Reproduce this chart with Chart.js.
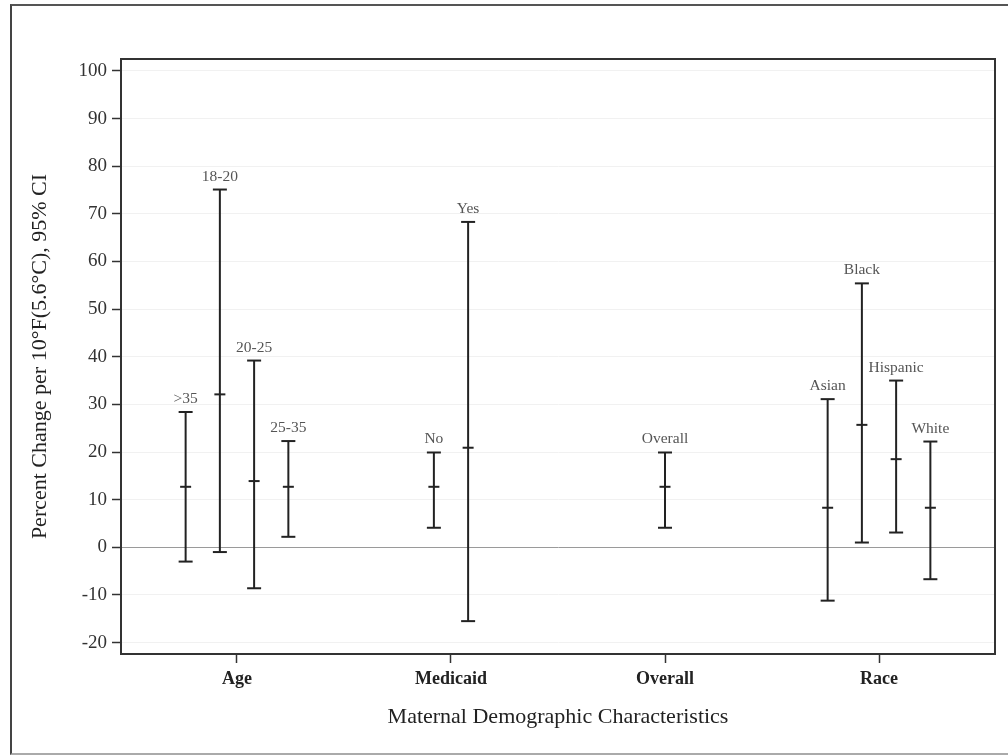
<!DOCTYPE html>
<html>
<head>
<meta charset="utf-8">
<script src="https://cdn.jsdelivr.net/npm/chart.js@4.4.0/dist/chart.umd.min.js"></script>
<style>
  body { margin: 0; background: #fff; overflow: hidden; }
  #frame { position: absolute; left: 10px; top: 4px; width: 1100px; height: 747px;
           border-left: 2px solid #444; border-top: 2px solid #555; border-bottom: 2px solid #aaa; }
  #wrap { position: absolute; left: 0; top: 0; width: 1008px; height: 755px; }
</style>
</head>
<body>
<div id="frame"></div>
<div id="wrap"><canvas id="ciChart" width="1008" height="755"></canvas></div>
<script>
// categories on the x axis
const categories = ["Age", "Medicaid", "Overall", "Race"];
// subgroups: label, category they belong to
const groupLabels = [">35", "18-20", "20-25", "25-35", "No", "Yes", "Overall", "Asian", "Black", "Hispanic", "White"];
const groupCategory = ["Age", "Age", "Age", "Age", "Medicaid", "Medicaid", "Overall", "Race", "Race", "Race", "Race"];
// percent change estimate and 95% CI
const estimate = [12.7, 32.1, 13.9, 12.7, 12.7, 20.9, 12.7, 8.3, 25.7, 18.5, 8.3];
const lower    = [-3.0, -1.0, -8.6, 2.2, 4.1, -15.5, 4.1, -11.2, 1.0, 3.1, -6.7];
const upper    = [28.4, 75.1, 39.2, 22.3, 19.9, 68.3, 19.9, 31.1, 55.4, 35.0, 22.2];
const yTicks = [-20, -10, 0, 10, 20, 30, 40, 50, 60, 70, 80, 90, 100];

const SERIF = "'Liberation Serif', 'DejaVu Serif', serif";
const barColor = "#222";
const spread = 0.16; // spacing between subgroups inside a category

// x position of each subgroup: category index + spread around it
var xPos = [];
for (let i = 0; i < groupLabels.length; i++) {
    let c = groupCategory[i];
    let members = [];
    for (let j = 0; j < groupLabels.length; j++) {
        if (groupCategory[j] === c) members.push(j);
    }
    let k = members.indexOf(i);
    xPos[i] = categories.indexOf(c) + 1 + (k - (members.length - 1) / 2) * spread;
}

var datasets = [];
for (let i = 0; i < groupLabels.length; i++) {
    datasets.push({
        label: groupLabels[i],
        data: [
            {x: xPos[i], y: lower[i]},
            {x: xPos[i], y: estimate[i]},
            {x: xPos[i], y: upper[i]}
        ],
        showLine: true,
        borderColor: barColor,
        borderWidth: 2,
        pointStyle: "line",
        pointRadius: [7, 5.5, 7],
        pointHoverRadius: [7, 5.5, 7],
        pointBorderColor: barColor,
        pointBorderWidth: 2
    });
}

// box around plot area + subgroup labels above each upper cap
const decorations = {
    id: "decorations",
    afterDatasetsDraw(chart) {
        const ctx = chart.ctx, xs = chart.scales.x, ys = chart.scales.y;
        ctx.save();
        ctx.font = "15.5px " + SERIF;
        ctx.fillStyle = "#555";
        ctx.textAlign = "center";
        ctx.textBaseline = "alphabetic";
        for (let i = 0; i < groupLabels.length; i++) {
            ctx.fillText(groupLabels[i], xs.getPixelForValue(xPos[i]), ys.getPixelForValue(upper[i]) - 9);
        }
        const a = chart.chartArea;
        ctx.strokeStyle = "#333";
        ctx.lineWidth = 2;
        ctx.strokeRect(a.left, a.top, a.right - a.left, a.bottom - a.top);
        ctx.restore();
    }
};

var config = {
    type: "scatter",
    data: { datasets: datasets },
    options: {
        responsive: false,
        animation: false,
        events: [],
        layout: { padding: { left: 27, right: 13, top: 59, bottom: 0 } },
        plugins: { legend: { display: false }, tooltip: { enabled: false } },
        scales: {
            x: {
                type: "linear",
                min: 0.458,
                max: 4.542,
                afterFit: function (s) { s.height = 101; },
                afterBuildTicks: function (s) { s.ticks = categories.map((c, i) => ({value: i + 1})); },
                ticks: {
                    callback: function (v) { return categories[v - 1]; },
                    font: { family: SERIF, size: 18, weight: "bold" },
                    color: "#222",
                    padding: 6,
                    maxRotation: 0
                },
                grid: { drawOnChartArea: false, tickLength: 9, tickColor: "#333", tickWidth: 1.5 },
                border: { display: true, color: "#333", width: 2 },
                title: {
                    display: true,
                    text: "Maternal Demographic Characteristics",
                    font: { family: SERIF, size: 22 },
                    color: "#222",
                    padding: { top: 0, bottom: 25 }
                }
            },
            y: {
                min: -22.4,
                max: 102.5,
                afterFit: function (s) { s.width = 94; },
                afterBuildTicks: function (s) { s.ticks = yTicks.map(v => ({value: v})); },
                ticks: {
                    font: { family: SERIF, size: 19 },
                    color: "#333",
                    padding: 5
                },
                grid: {
                    color: function (c) { return c.tick && c.tick.value === 0 ? "#9a9a9a" : "#f1f1f1"; },
                    lineWidth: 1,
                    tickLength: 9,
                    tickColor: "#333",
                    tickWidth: 1.5
                },
                border: { display: true, color: "#333", width: 2 },
                title: {
                    display: true,
                    text: "Percent Change per 10°F(5.6°C), 95% CI",
                    font: { family: SERIF, size: 22 },
                    color: "#222",
                    padding: { top: 0, bottom: 0 }
                }
            }
        }
    },
    plugins: [decorations]
};

var ciChart = new Chart(document.getElementById("ciChart"), config);
</script>
</body>
</html>
